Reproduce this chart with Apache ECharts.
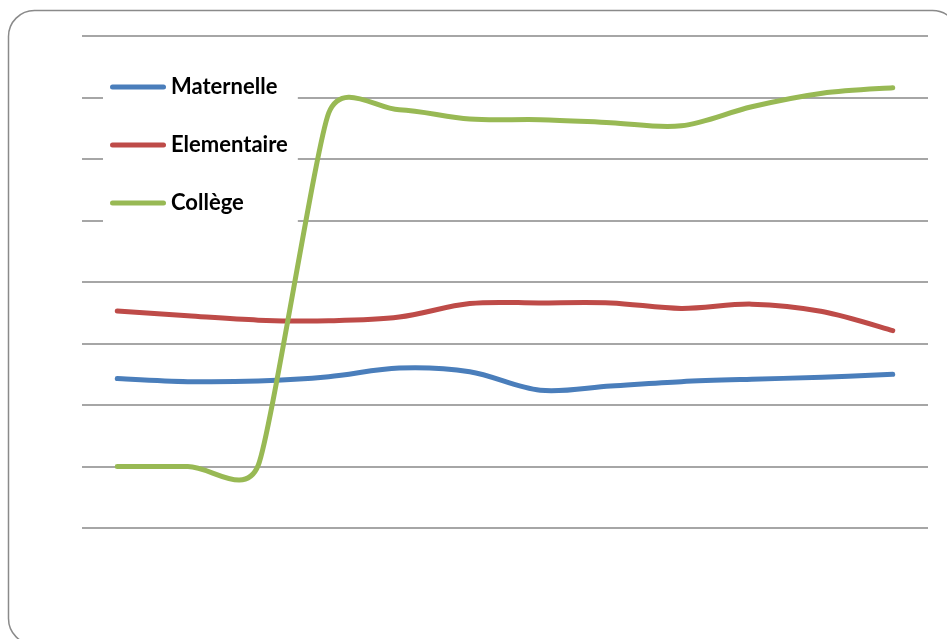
<!DOCTYPE html>
<html>
<head>
<meta charset="utf-8">
<script src="https://cdn.jsdelivr.net/npm/echarts@6/dist/echarts.min.js"></script>
<style>
html,body{margin:0;padding:0;background:#fff;}
#chart{width:947px;height:639px;}
</style>
</head>
<body>
<div id="chart"></div>
<script>
const categories = ['1','2','3','4','5','6','7','8','9','10','11','12'];
const maternelle = [24.3, 23.8, 23.9, 24.6, 26.0, 25.4, 22.4, 23.1, 23.8, 24.2, 24.5, 25.0];
const elementaire = [35.3, 34.5, 33.8, 33.7, 34.3, 36.5, 36.6, 36.6, 35.7, 36.4, 35.2, 32.1];
const college = [10.0, 10.0, 10.2, 67.5, 68.0, 66.5, 66.4, 65.9, 65.4, 68.5, 70.7, 71.6];
const seriesNames = ['Maternelle', 'Elementaire', 'Collège'];
const colors = ['#4A7EBB', '#BE4B48', '#98B954'];

// Excel-like smoothed path through the points (pixel space)
function smoothPath(pts) {
  const n = pts.length;
  function ctrl(i) {
    const p = pts[i];
    const prev = pts[Math.max(0, i - 1)];
    const next = pts[Math.min(n - 1, i + 1)];
    const tx = next[0] - prev[0], ty = next[1] - prev[1];
    const d = Math.hypot(tx, ty) || 1;
    const dp = i > 0 ? Math.hypot(p[0] - prev[0], p[1] - prev[1]) : Infinity;
    const dn = i < n - 1 ? Math.hypot(next[0] - p[0], next[1] - p[1]) : Infinity;
    let f = 1 / 6;
    const lim = 0.5 * Math.min(dp, dn);
    if (d * f > lim) f = lim / d;
    return [tx * f, ty * f];
  }
  const t = pts.map((p, i) => ctrl(i));
  let s = 'M' + pts[0][0] + ' ' + pts[0][1];
  for (let i = 0; i < n - 1; i++) {
    const a = pts[i], b = pts[i + 1];
    s += ' C' + (a[0] + t[i][0]) + ' ' + (a[1] + t[i][1]) + ' ' +
      (b[0] - t[i + 1][0]) + ' ' + (b[1] - t[i + 1][1]) + ' ' + b[0] + ' ' + b[1];
  }
  return s;
}

function mk(name, values, color) {
  return {
    name: name, type: 'custom', coordinateSystem: 'cartesian2d',
    data: values.map((v, i) => [i, v]),
    encode: {x: 0, y: 1},
    itemStyle: {color: color},
    silent: true,
    renderItem: function (params, api) {
      if (params.dataIndex !== 0) return null;
      const pts = values.map((v, i) => api.coord([i, v]));
      return {
        type: 'path',
        shape: {pathData: smoothPath(pts)},
        style: {fill: 'none', stroke: color, lineWidth: 5, lineCap: 'round', lineJoin: 'round'}
      };
    }
  };
}

const chart = echarts.init(document.getElementById('chart'), null, {renderer: 'canvas'});
chart.setOption({
  animation: false,
  backgroundColor: '#fff',
  graphic: [{
    type: 'rect', z: 100, silent: true,
    shape: {x: 8.5, y: 10.5, width: 950, height: 634, r: 26},
    style: {fill: 'none', stroke: '#8a8a8a', lineWidth: 1.5}
  }],
  grid: {left: 82, right: 19, top: 36, bottom: 111, containLabel: false},
  legend: {
    orient: 'vertical', left: 103, top: 66,
    padding: [10, 10, 12, 7],
    backgroundColor: '#fff',
    itemWidth: 56, itemHeight: 5, itemGap: 36,
    icon: 'path://M2.5,0 L53.5,0 A2.5,2.5 0 0 1 53.5,5 L2.5,5 A2.5,2.5 0 0 1 2.5,0 Z',
    data: seriesNames,
    textStyle: {fontFamily: 'Lato', fontWeight: 'bold', fontSize: 22, color: '#000', lineHeight: 22}
  },
  xAxis: {
    type: 'category', data: categories, boundaryGap: true,
    axisLine: {show: false}, axisTick: {show: false}, axisLabel: {show: false}
  },
  yAxis: {
    type: 'value', min: 0, max: 80, interval: 10,
    axisLine: {show: false}, axisTick: {show: false}, axisLabel: {show: false},
    splitLine: {show: true, lineStyle: {color: '#888888', width: 1.5}}
  },
  series: [
    mk(seriesNames[0], maternelle, colors[0]),
    mk(seriesNames[1], elementaire, colors[1]),
    mk(seriesNames[2], college, colors[2])
  ]
});
</script>
</body>
</html>
